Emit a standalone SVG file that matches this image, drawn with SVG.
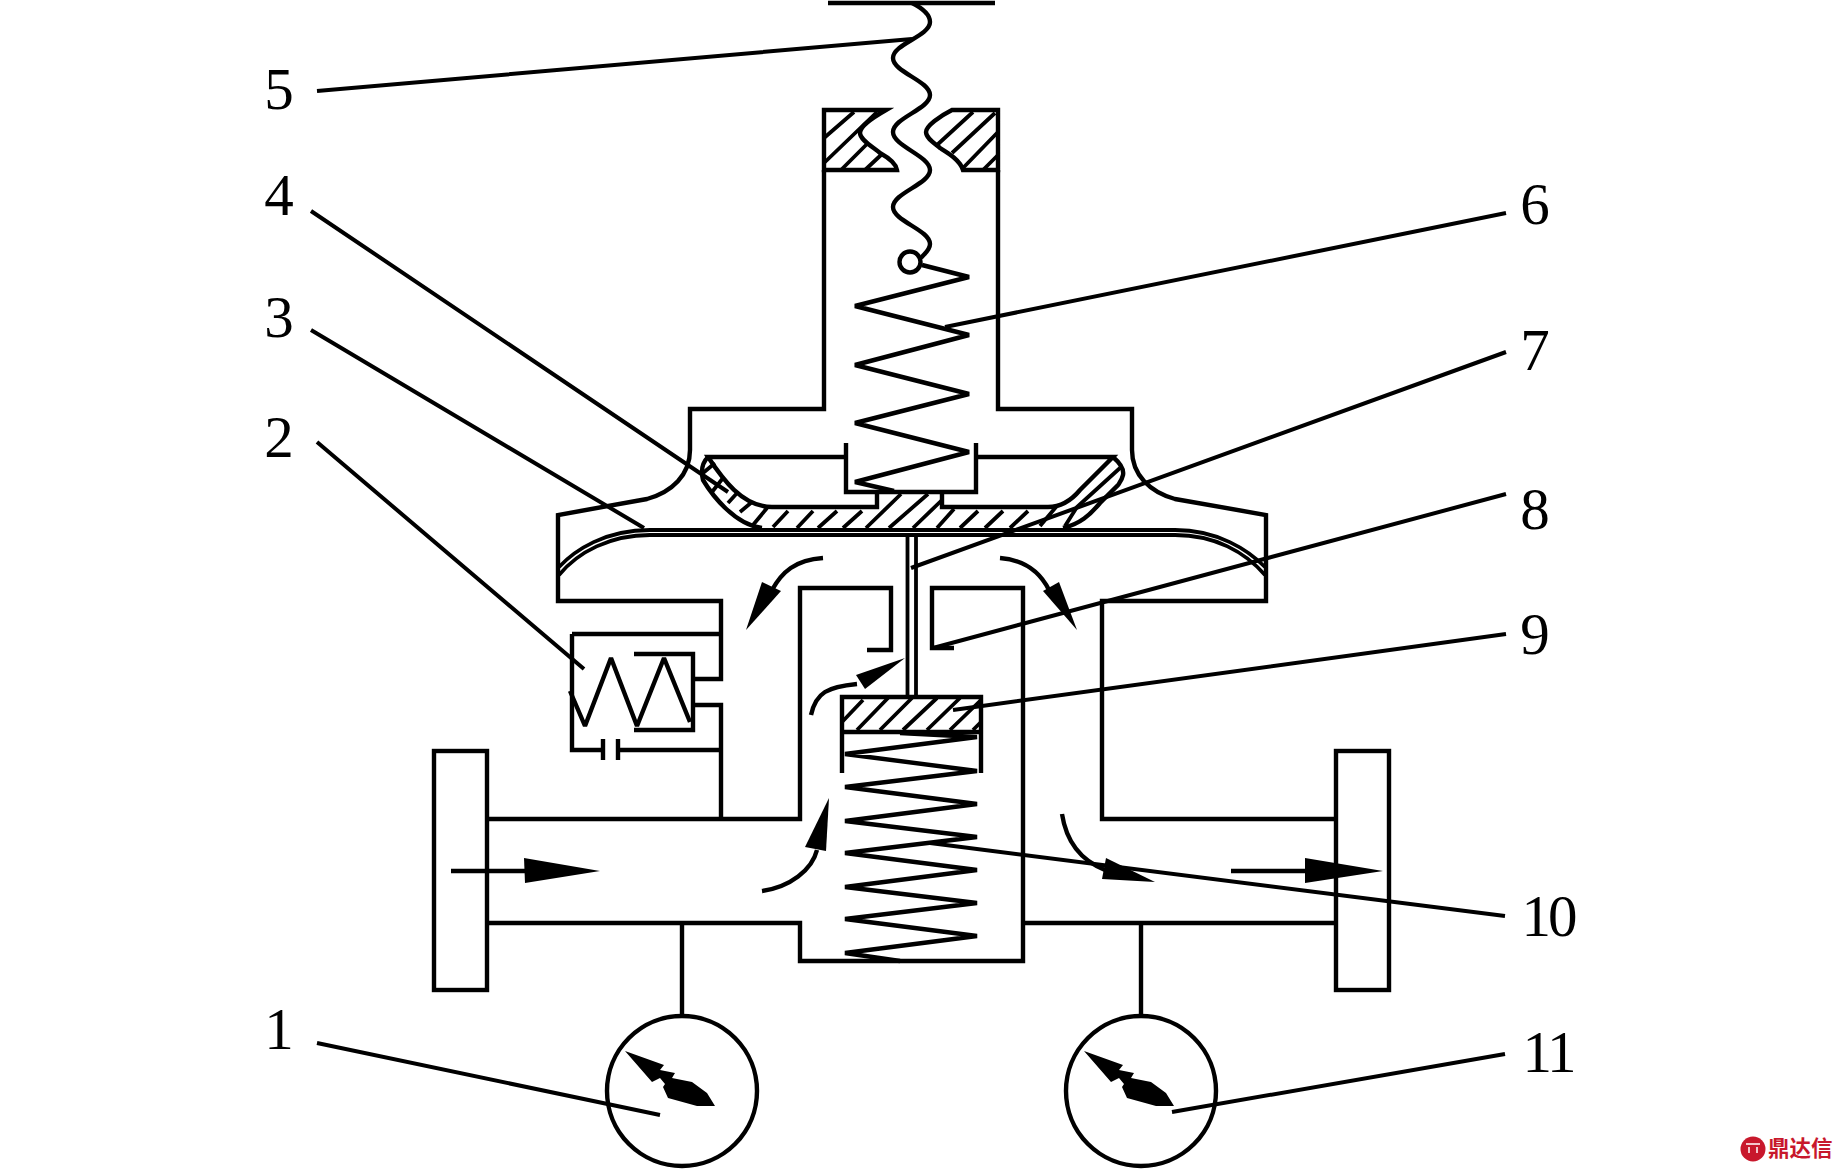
<svg xmlns="http://www.w3.org/2000/svg" width="1843" height="1169" viewBox="0 0 1843 1169">
<style>
.s{fill:none;stroke:#000;stroke-width:4.400;stroke-linejoin:miter}
.z{fill:none;stroke:#000;stroke-width:4.400;stroke-linejoin:bevel}
.t{fill:none;stroke:#000;stroke-width:3.800}
.l{fill:none;stroke:#000;stroke-width:4}
.h{fill:#000;stroke:none}
.n{font-family:"Liberation Serif","DejaVu Serif",serif;font-size:59px;fill:#000;text-anchor:middle}
</style>
<rect width="1843" height="1169" fill="#fff"/>
<g id="top-rod">
<path class="s" d="M828 3H995"/>
<path class="s" d="M912 3C922 8 930 14 930 22C930 36 893 44 893 58C893 72 930 81 930 95C930 109 893 118 893 132C893 146 930 156 930 170C930 184 893 193 893 207C893 221 930 230 930 244C930 250 925 253 921 258"/>
<circle class="s" cx="910" cy="262" r="10.500" fill="#fff"/>
</g>
<g id="cap">
<path class="s" d="M824 110H886C872 118 860 126 860 133C860 140 873 147 880 153C889 158 896 163 897 170H824ZM998 110H952C940 116 926 126 926 132C926 138 934 143 940 148C948 153 960 160 963 170H998Z"/>
<path class="t" d="M824 138L854 112M824 163L877 112M841 170L867 144M865 170L881 155M937 145L973 112M952 153L995 113M963 168L998 132M983 170L998 155"/>
</g>
<g id="housing">
<path class="s" d="M824 170V409H690V450C690 475 672 492 647 499L558 515V601H721V679H693M693 705H721V819M998 170V409H1132V450C1132 475 1150 492 1175 499L1266 515V601H1102V819H1336"/>
<path class="s" d="M572 634H721"/>
</g>
<g id="valve-2">
<path class="s" d="M572 634V750H603M618 750H721M603 739V760M618 739V760M634 654H693V730H634"/>
<path class="z" d="M570 691L585 726L611 658L637 726L664 658L690 722"/>
</g>
<g id="pipe">
<rect class="s" x="434" y="751" width="53" height="239"/>
<rect class="s" x="1336" y="751" width="53" height="239"/>
<path class="s" d="M487 819H800V588H891V650H867M487 923H800V961H1023V588H932V648H954M1023 923H1336"/>
</g>
<g id="spring-6">
<path class="z" d="M922 265L969 277L855 306L969 335L855 365L969 394L855 423L969 452L855 482L894 491"/>
</g>
<g id="cup-4">
<path class="s" d="M846 457H708C722 478 742 507 772 507H877V492M846 443V492H976V443M976 457H1113L1080 490C1070 502 1060 507 1048 507H942V492"/>
<path class="s" d="M708 457C702 463 701 472 703 480C712 495 735 525 762 528M1113 457C1120 463 1124 470 1123 475C1122 480 1120 482 1118 485L1100 503C1090 515 1080 524 1063 528"/>
<path class="t" d="M1120 468L1077 507L1065 526M1056 507L1040 526"/>
<path class="t" d="M715 463L703 473M723 478L712 492M738 492L728 503M752 502L740 512M767 508L753 525M788 511L773 527M813 511L797 528M837 511L818 528M862 511L843 528M866 528L901 494M889 528L928 494M913 528L942 500M937 528L954 509M960 528L978 511M985 528L1003 511M1010 528L1028 511"/>
</g>
<g id="diaphragm-3">
<path class="t" d="M559 567C575 550 605 530 650 530H1175C1218 530 1248 550 1265 567"/>
<path class="t" d="M559 575C578 552 610 535 650 535H1175C1215 535 1245 552 1265 575"/>
</g>
<g id="stem-7">
<path class="t" d="M907.500 535V697M916 535V697"/>
</g>
<g id="plate-9">
<path class="s" d="M842 773V697H981V773M842 732H981"/>
<path class="t" d="M842 722L863 700M857 730L888 698M880 730L912 698M903 730L937 698M927 730L960 698M950 730L981 700M973 730L981 722"/>
</g>
<g id="spring-10">
<path class="z" d="M900 733L977 737L845 754L977 771L845 787L977 804L845 821L977 837L845 853L977 870L845 887L977 903L845 919L977 936L845 953L900 961"/>
</g>
<g id="gauge-1">
<path class="s" d="M682 923V1016"/>
<circle class="s" cx="682" cy="1091" r="75"/>
<path class="h" d="M625 1051L664 1065L660 1070L675 1073L672 1078L692 1082L707 1093L715 1106L697 1106L668 1098L663 1087L665 1084L660 1078L652 1082Z"/>
</g>
<g id="gauge-11">
<path class="s" d="M1141 923V1016"/>
<circle class="s" cx="1141" cy="1091" r="75"/>
<path class="h" d="M1084 1051L1123 1065L1119 1070L1134 1073L1131 1078L1151 1082L1166 1093L1174 1106L1156 1106L1127 1098L1122 1087L1124 1084L1119 1078L1111 1082Z"/>
</g>
<g id="connectors">
<path class="l" d="M317 91L912 39M311 211L728 492M311 330L644 528M317 442L584 669M317 1043L660 1115M1506 213L945 327M1506 352L911 568M1506 494L933 648M1506 634L953 710M1505 916L930 843M1505 1054L1172 1112"/>
<path class="s" d="M823 558C795 560 782 572 772 590"/>
<path class="h" d="M746 630L762 582L781 591Z"/>
<path class="s" d="M1000 558C1025 560 1040 572 1049 590"/>
<path class="h" d="M1077 630L1059 582L1043 591Z"/>
<path class="s" d="M811 715C816 692 828 687 857 684"/>
<path class="h" d="M905 658L856 675L865 689Z"/>
<path class="s" d="M762 891C790 887 812 870 817 850"/>
<path class="h" d="M829 798L805 847L826 851Z"/>
<path class="s" d="M1062 814C1066 840 1080 860 1105 870"/>
<path class="h" d="M1155 882L1106 858L1102 879Z"/>
<path class="s" d="M451 871H525"/>
<path class="h" d="M600 871L524 858L525 883Z"/>
<path class="s" d="M1231 871H1305"/>
<path class="h" d="M1383 871L1305 858L1305 883Z"/>
</g>
<g id="labels">
<text class="n" x="279" y="109">5</text>
<text class="n" x="279" y="215">4</text>
<text class="n" x="279" y="337">3</text>
<text class="n" x="279" y="457">2</text>
<text class="n" x="279" y="1049">1</text>
<text class="n" x="1535" y="224">6</text>
<text class="n" x="1535" y="370">7</text>
<text class="n" x="1535" y="529">8</text>
<text class="n" x="1535" y="654">9</text>
<text class="n" x="1548" y="936" letter-spacing="-3">10</text>
<text class="n" x="1548" y="1072" letter-spacing="-3">11</text>
</g>
<g id="logo">
<circle cx="1753" cy="1149" r="12.500" fill="#c8182c"/>
<path d="M1746 1144H1760M1749 1147V1153M1757 1147V1153" stroke="#fff" stroke-width="1.500" fill="none"/>
<text x="1768" y="1156" font-family="'Noto Sans CJK SC',sans-serif" font-weight="700" font-size="21.500" fill="#c8182c">鼎达信</text>
</g>
</svg>
